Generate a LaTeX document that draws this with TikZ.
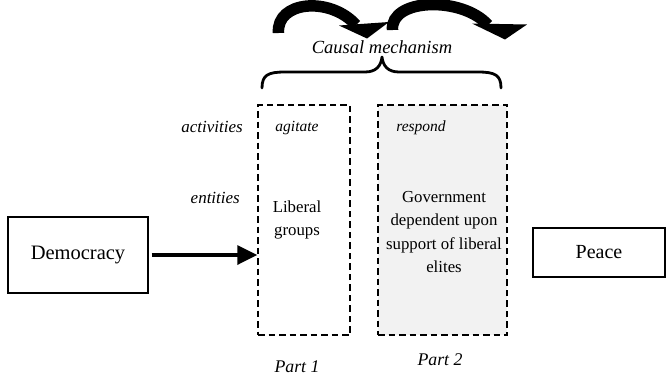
\documentclass[tikz,border=0pt]{standalone}
\usepackage{fontspec}
\setmainfont{Liberation Serif}
\usetikzlibrary{arrows.meta}
\definecolor{panelgray}{HTML}{F2F2F2}

\begin{document}
\begin{tikzpicture}[x=1pt,y=-1pt,
  solidbox/.style={draw, line width=1.3pt, inner sep=0pt},
  partbox/.style={draw, line width=1.5pt, dash pattern=on 6.5pt off 4pt,
    inner sep=0pt, minimum height=230pt},
  bodytext/.style={align=center, inner sep=0pt,
    font=\fontsize{16.8pt}{23.5pt}\selectfont},
  rowlabel/.style={inner sep=0pt, font=\fontsize{17pt}{20pt}\selectfont\itshape},
  verb/.style={inner sep=0pt, font=\fontsize{15.5pt}{18pt}\selectfont\itshape},
  partlabel/.style={inner sep=0pt, font=\fontsize{17.8pt}{20pt}\selectfont\itshape},
  shaft/.style={line width=11.5pt, line cap=butt},
  headfill/.style={fill=black}]
\useasboundingbox (0,0) rectangle (666,378);

% outer boxes
\node[solidbox, minimum width=140pt, minimum height=76pt,
  font=\fontsize{20.5pt}{24pt}\selectfont] (dem) at (78,255) {Democracy};
\node[solidbox, minimum width=132pt, minimum height=49pt,
  font=\fontsize{20pt}{24pt}\selectfont] (peace) at (599,252.5) {Peace};

% the two parts of the mechanism
\node[partbox, minimum width=92pt] (part1) at (304,220) {};
\node[partbox, minimum width=129pt, fill=panelgray] (part2) at (442.5,220) {};

% row labels
\node[rowlabel, anchor=east] (act) at (243,127) {activities};
\node[rowlabel, anchor=east] (ent) at (240,198) {entities};

% contents of the parts
\node[verb] (agitate) at (297,128) {agitate};
\node[verb] (respond) at (421,128) {respond};
\node[bodytext] (liberal) at (297,220) {Liberal\\groups};
\node[bodytext] (gov) at (444,232) {Government\\dependent upon\\support of liberal\\elites};

\node[partlabel] (p1) at (297,367) {Part 1};
\node[partlabel] (p2) at (440,360) {Part 2};

% democracy feeds the mechanism
\draw[line width=3.5pt, shorten <=3pt, -{Triangle[length=20pt,width=19pt]}]
  (dem.east) -- (dem.east -| part1.west);

% brace over the mechanism
\node[inner sep=0pt, font=\fontsize{18.5pt}{22pt}\selectfont\itshape]
  (causal) at (382,47) {Causal mechanism};
\draw[line width=2.8pt, line cap=round, line join=round]
  (262,88) .. controls (262,75) and (268,72) .. (285,72) -- (365,72)
  .. controls (376,72) and (381,66) .. (382,57)
  .. controls (383,66) and (388,72) .. (399,72) -- (478,72)
  .. controls (495,72) and (501,75) .. (501,88);

% curved block arrows of the causal chain
\coordinate (a1s) at (278.5,33);
\coordinate (a1e) at (356,25);
\coordinate (a2s) at (392.5,30);
\coordinate (a2e) at (488,25);
\draw[shaft] (a1s) .. controls (276,1) and (330,-4) .. (a1e);
\fill[headfill] (339,25.5) -- (389,22) -- (367,38.5) -- cycle;
\draw[shaft] (a2s) .. controls (390,-2) and (462,-4) .. (a2e);
\fill[headfill] (472,23.5) -- (527,24.5) -- (505,39.5) -- cycle;
\end{tikzpicture}
\end{document}
